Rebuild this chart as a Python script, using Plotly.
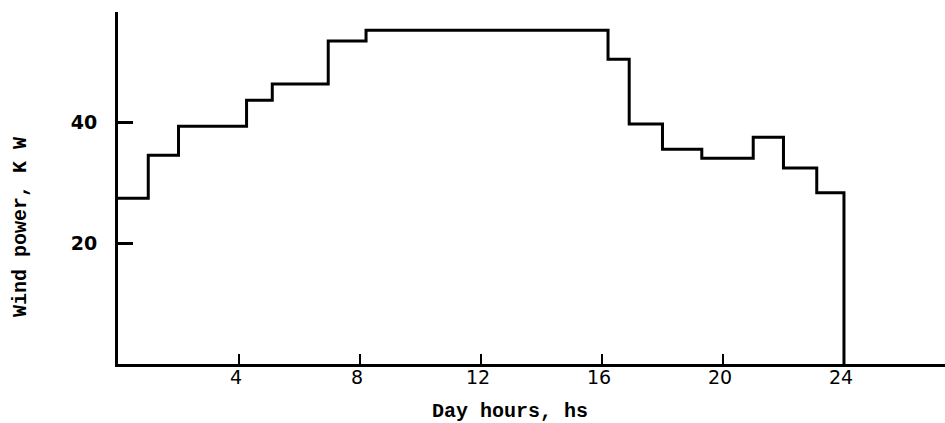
import plotly.graph_objects as go

# step boundaries (hours) and wind power (kW) on each interval
hours = [0, 1, 2, 4.25, 5.1, 6.95, 8.2, 16.2, 16.9, 18, 19.3, 21, 22, 23.1, 24]
power = [27.4, 34.5, 39.3, 43.6, 46.3, 53.4, 55.2, 50.4, 39.7, 35.5, 34.0, 37.5, 32.4, 28.3]
x_ticks = [4, 8, 12, 16, 20, 24]
y_ticks = [20, 40]

xs = hours + [hours[-1]]
ys = power + [power[-1], 0]

fig = go.Figure()
fig.add_trace(go.Scatter(x=xs, y=ys, mode="lines", line_shape="hv",
                         line=dict(color="black", width=3), showlegend=False,
                         hoverinfo="skip"))

fig.update_layout(
    width=945, height=423,
    margin=dict(l=118, r=0, t=12, b=59),
    paper_bgcolor="white", plot_bgcolor="white",
    font=dict(family="DejaVu Sans", color="black", size=18),
    annotations=[
        dict(text="<b>Wind power, K W</b>", textangle=-90, showarrow=False,
             xref="paper", yref="paper", x=-0.1185, y=0.389,
             xanchor="center", yanchor="middle",
             font=dict(family="Liberation Mono", size=20)),
        dict(text="<b>Day hours, hs</b>", showarrow=False,
             xref="paper", yref="paper", x=0.474, y=-0.136,
             xanchor="center", yanchor="middle",
             font=dict(family="Liberation Mono", size=20)),
    ],
)
fig.update_xaxes(
    range=[0, 27.34], showgrid=False, zeroline=False,
    showline=True, linecolor="black", linewidth=2.5,
    tickvals=x_ticks, ticktext=[str(v) for v in x_ticks],
    ticks="inside", ticklen=10, tickwidth=2, tickcolor="black",
    tickfont=dict(family="DejaVu Sans", size=19),
    ticklabelstandoff=-6, ticklabelshift=-3,
)
fig.update_yaxes(
    range=[0, 58.2], showgrid=False, zeroline=False,
    showline=True, linecolor="black", linewidth=3,
    tickvals=y_ticks, ticktext=["<b>%d</b>" % v for v in y_ticks],
    ticks="inside", ticklen=15, tickwidth=3, tickcolor="black",
    tickfont=dict(family="DejaVu Sans", size=19),
    ticklabelstandoff=14,
)

fig.write_html("out.html")
